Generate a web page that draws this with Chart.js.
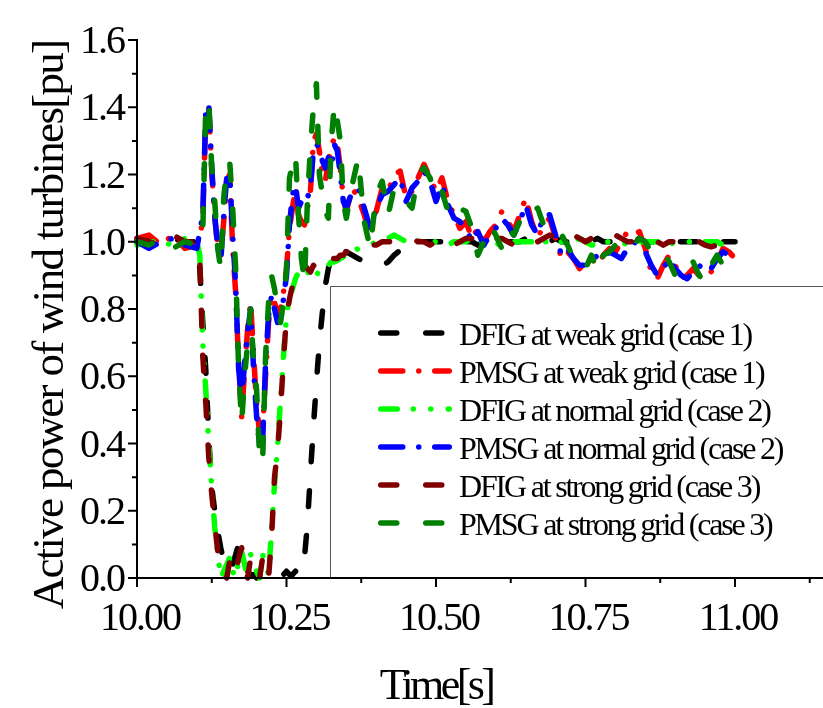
<!DOCTYPE html>
<html>
<head>
<meta charset="utf-8">
<script src="https://cdn.jsdelivr.net/npm/chart.js@4"></script>
<style>
  html, body { margin: 0; padding: 0; background: #fff; }
  canvas { display: block; }
</style>
</head>
<body>
<canvas id="powerCanvas" width="823" height="708"></canvas>
<script>
// time axis [s]
const times = [
  10.00, 10.02, 10.04, 10.06, 10.08, 10.10,
  10.105, 10.11, 10.115, 10.12, 10.125, 10.13, 10.135, 10.14, 10.145, 10.15,
  10.155, 10.16, 10.165, 10.17, 10.175, 10.18, 10.185, 10.19, 10.195, 10.20,
  10.205, 10.21, 10.215, 10.22, 10.225, 10.23, 10.235, 10.24, 10.245, 10.25,
  10.255, 10.26, 10.265, 10.27, 10.275, 10.28, 10.285, 10.29, 10.295, 10.30,
  10.305, 10.31, 10.315, 10.32, 10.325, 10.33, 10.335, 10.34, 10.345, 10.35,
  10.36, 10.37, 10.38, 10.39, 10.40, 10.41, 10.42, 10.43, 10.44, 10.45,
  10.46, 10.47, 10.48, 10.49, 10.50, 10.51, 10.52, 10.53, 10.54, 10.55,
  10.56, 10.57, 10.58, 10.59, 10.60, 10.61, 10.62, 10.63, 10.64, 10.65,
  10.66, 10.67, 10.68, 10.69, 10.70, 10.71, 10.72, 10.73, 10.74, 10.75,
  10.76, 10.77, 10.78, 10.79, 10.80, 10.81, 10.82, 10.83, 10.84, 10.85,
  10.86, 10.87, 10.88, 10.89, 10.90, 10.91, 10.92, 10.93, 10.94, 10.95,
  10.96, 10.97, 10.98, 10.99, 11.00
]

// active power [pu]
const dfigWeak = [
  1.00, 1.01, 0.99, 1.01, 1.00, 1.00,
  0.92, 0.76, 0.62, 0.42, 0.27, 0.20, 0.14, 0.09, 0.05, 0.04,
  0.06, 0.04, 0.07, 0.10, 0.08, 0.04, 0.02, 0.01, 0.01, 0.00,
  0.00, 0.00, 0.00, 0.00, 0.00, 0.00, 0.00, 0.00, 0.01, 0.02,
  0.01, 0.01, 0.02, 0.01, 0.02, 0.06, 0.16, 0.31, 0.45, 0.58,
  0.70, 0.79, 0.87, 0.92, 0.95, 0.97, 0.975, 0.98, 0.975, 0.97,
  0.96, 0.95, 0.94, 0.93, 0.93, 0.93, 0.94, 0.96, 0.975, 0.98,
  0.99, 0.99, 1.00, 1.00, 1.00, 1.00, 1.00, 1.01, 1.00, 1.00,
  1.00, 0.99, 1.00, 1.00, 1.01, 1.00, 1.00, 1.00, 1.00, 1.01,
  1.00, 1.00, 1.00, 1.00, 1.01, 1.00, 1.00, 1.00, 1.00, 1.00,
  1.00, 1.01, 1.00, 1.00, 1.00, 1.00, 1.00, 1.00, 1.01, 1.00,
  1.00, 1.00, 1.00, 1.01, 1.00, 1.00, 1.00, 1.00, 1.00, 1.00,
  1.01, 1.00, 1.00, 1.00, 1.00
]
const pmsgWeak = [
  1.01, 1.02, 0.99, 1.02, 0.98, 0.99,
  1.02, 1.06, 1.38, 1.40, 1.21, 1.07, 0.99, 0.96, 1.06, 1.18,
  1.20, 0.98, 0.85, 0.64, 0.48, 0.62, 0.74, 0.82, 0.66, 0.52,
  0.43, 0.44, 0.60, 0.76, 0.84, 0.82, 0.78, 0.80, 0.85, 0.92,
  1.04, 1.10, 1.16, 1.08, 1.06, 1.05, 1.10, 1.15, 1.30, 1.32,
  1.27, 1.20, 1.18, 1.24, 1.28, 1.31, 1.29, 1.22, 1.13, 1.09,
  1.16, 1.13, 1.08, 1.02, 1.09, 1.16, 1.15, 1.20, 1.21, 1.13,
  1.15, 1.19, 1.23, 1.19, 1.15, 1.19, 1.12, 1.08, 1.04, 1.06,
  1.01, 1.04, 1.00, 1.03, 1.05, 1.09, 1.06, 1.03, 1.08, 1.13,
  1.06, 1.01, 1.05, 1.07, 1.01, 0.95, 0.97, 0.95, 0.92, 0.94,
  0.95, 0.93, 0.96, 0.98, 0.97, 1.00, 1.03, 1.02, 1.03, 0.98,
  0.91, 0.89, 0.93, 0.96, 0.93, 0.89, 0.90, 0.92, 0.90, 0.89,
  0.91, 0.94, 0.98, 0.97, 0.95
]
const dfigNormal = [
  0.99, 1.00, 1.00, 0.99, 1.01, 1.00,
  0.96, 0.70, 0.56, 0.40, 0.27, 0.15, 0.07, 0.00, 0.02, 0.04,
  0.06, 0.02, 0.00, 0.05, 0.08, 0.04, 0.00, 0.07, 0.05, 0.02,
  0.00, 0.07, 0.04, 0.01, 0.14, 0.28, 0.39, 0.53, 0.66, 0.78,
  0.84, 0.86, 0.89, 0.91, 0.92, 0.92, 0.91, 0.90, 0.92, 0.91,
  0.90, 0.91, 0.92, 0.93, 0.94, 0.94, 0.945, 0.95, 0.955, 0.96,
  0.97, 0.98, 0.99, 0.99, 1.00, 1.00, 1.01, 1.02, 1.01, 1.00,
  1.00, 1.00, 1.01, 1.00, 1.00, 1.00, 0.99, 1.00, 1.00, 1.00,
  1.01, 1.00, 1.00, 1.00, 0.99, 1.00, 1.00, 1.00, 1.00, 1.00,
  1.00, 1.01, 1.00, 1.00, 0.99, 1.00, 1.00, 1.00, 1.01, 1.00,
  0.99, 0.99, 1.00, 1.00, 1.00, 1.00, 0.99, 1.00, 1.00, 1.00,
  1.00, 1.00, 1.00, 0.99, 1.00, 1.00, 1.00, 1.00, 0.99, 1.00,
  1.00, 1.00, 0.99, 1.00, 1.00
]
const pmsgNormal = [
  1.00, 0.98, 1.00, 1.01, 0.99, 0.98,
  1.03, 1.08, 1.39, 1.41, 1.22, 1.08, 0.98, 0.94, 1.08, 1.19,
  1.20, 1.02, 0.87, 0.62, 0.53, 0.64, 0.73, 0.80, 0.62, 0.48,
  0.39, 0.40, 0.64, 0.78, 0.84, 0.80, 0.76, 0.77, 0.83, 0.90,
  1.05, 1.14, 1.17, 1.10, 1.12, 1.11, 1.13, 1.16, 1.27, 1.29,
  1.28, 1.24, 1.22, 1.25, 1.22, 1.29, 1.27, 1.20, 1.12, 1.10,
  1.15, 1.16, 1.10, 1.04, 1.10, 1.14, 1.15, 1.17, 1.19, 1.12,
  1.16, 1.18, 1.21, 1.18, 1.12, 1.17, 1.11, 1.07, 1.06, 1.04,
  1.00, 1.03, 0.99, 1.02, 1.04, 1.07, 1.05, 1.02, 1.06, 1.11,
  1.05, 1.02, 1.08, 1.08, 1.02, 0.96, 0.98, 0.95, 0.93, 0.93,
  0.94, 0.96, 0.95, 0.97, 0.96, 0.95, 0.98, 1.00, 0.99, 0.97,
  0.93, 0.90, 0.92, 0.95, 0.92, 0.90, 0.89, 0.91, 0.93, 0.91,
  0.92, 0.95, 0.97, 0.96, 0.94
]
const dfigStrong = [
  1.01, 1.00, 0.99, 1.02, 1.00, 1.00,
  0.95, 0.66, 0.52, 0.36, 0.25, 0.16, 0.08, 0.02, 0.01, 0.00,
  0.05, 0.03, 0.01, 0.06, 0.09, 0.03, 0.00, 0.06, 0.04, 0.02,
  0.00, 0.06, 0.03, 0.00, 0.12, 0.30, 0.38, 0.50, 0.65, 0.78,
  0.83, 0.87, 0.90, 0.92, 0.93, 0.93, 0.92, 0.91, 0.93, 0.92,
  0.91, 0.92, 0.93, 0.94, 0.95, 0.95, 0.95, 0.96, 0.96, 0.97,
  0.975, 0.98, 0.98, 0.99, 0.99, 1.00, 1.00, 1.00, 1.01, 1.01,
  1.01, 1.00, 1.00, 0.99, 1.00, 1.01, 1.00, 0.99, 1.00, 1.01,
  1.01, 1.00, 0.99, 1.00, 1.01, 1.01, 1.00, 0.99, 1.00, 1.01,
  1.00, 1.00, 1.01, 1.02, 1.01, 1.00, 1.01, 1.02, 1.01, 1.00,
  1.01, 1.00, 1.00, 1.01, 1.02, 1.01, 1.00, 1.00, 1.01, 1.00,
  1.00, 1.00, 0.99, 1.00, 1.00, 0.99, 0.985, 0.99, 1.00, 0.99,
  0.985, 0.99, 0.985, 1.00, 1.00
]
const pmsgStrong = [
  1.00, 0.99, 1.01, 0.98, 1.00, 0.99,
  1.00, 1.03, 1.40, 1.42, 1.22, 1.12, 0.98, 0.92, 1.13, 1.22,
  1.24, 1.10, 0.92, 0.62, 0.46, 0.60, 0.70, 0.80, 0.64, 0.56,
  0.36, 0.34, 0.66, 0.82, 0.90, 0.86, 0.80, 0.76, 0.82, 0.92,
  1.19, 1.23, 1.26, 1.08, 0.95, 0.88, 1.12, 1.28, 1.40, 1.47,
  1.20, 1.14, 1.09, 1.07, 1.30, 1.41, 1.36, 1.30, 1.12, 1.07,
  1.17, 1.25, 1.06, 0.98, 1.14, 1.18, 1.08, 1.16, 1.15, 1.12,
  1.10, 1.20, 1.22, 1.19, 1.13, 1.15, 1.09, 1.07, 1.10, 1.09,
  1.04, 0.96, 1.00, 1.05, 1.02, 0.98, 1.04, 1.02, 1.06, 1.05,
  1.09, 1.10, 1.05, 1.03, 1.01, 1.02, 0.99, 0.95, 0.94, 0.92,
  0.96, 0.91, 0.96, 0.97, 0.99, 0.98, 1.00, 0.99, 1.01, 1.00,
  0.97, 0.96, 0.97, 0.94, 0.90, 0.89, 0.91, 0.94, 0.90, 0.88,
  0.93, 0.96, 0.93, 0.91, 0.94
]

const seriesNames = [
  'DFIG at weak grid (case 1)',
  'PMSG at weak grid (case 1)',
  'DFIG at normal grid (case 2)',
  'PMSG at normal grid (case 2)',
  'DFIG at strong grid (case 3)',
  'PMSG at strong grid (case 3)'
]
const seriesValues = [dfigWeak, pmsgWeak, dfigNormal, pmsgNormal, dfigStrong, pmsgStrong]

const xTicks = [10.00, 10.25, 10.50, 10.75, 11.00]
const xMinorTicks = [10.125, 10.375, 10.625, 10.875, 11.125]
const yTicks = [0.0, 0.2, 0.4, 0.6, 0.8, 1.0, 1.2, 1.4, 1.6]
const yMinorTicks = [0.1, 0.3, 0.5, 0.7, 0.9, 1.1, 1.3, 1.5]

// line styles, same order as the series
const DASH = [16, 29]
const DASH_DOT = [22, 16, 0.01, 16]
const DASH_DOT_DOT = [16.5, 16, 0.01, 17.5, 0.01, 17.5]
const styles = [
  {color: '#000000', dash: DASH},
  {color: '#ff0000', dash: DASH_DOT},
  {color: '#00ff00', dash: DASH_DOT_DOT},
  {color: '#0000ff', dash: DASH_DOT},
  {color: '#800000', dash: DASH},
  {color: '#008000', dash: DASH},
]

const SERIF = '"Liberation Serif", "Times New Roman", serif'

function drawText(ctx, str, x, y, size, spacing, align) {
  ctx.save()
  ctx.font = size + 'px ' + SERIF
  ctx.letterSpacing = spacing + 'px'
  ctx.textAlign = align
  ctx.textBaseline = 'alphabetic'
  ctx.fillStyle = '#000'
  ctx.fillText(str, x, y)
  ctx.restore()
}

// legend sits inside the plot, lower right, on a white box
const legendBox = {
  id: 'legendBox',
  afterDatasetsDraw(chart) {
    const {ctx, chartArea: a} = chart
    const left = a.left + 193.5
    const top = a.top + 246.5
    ctx.save()
    ctx.fillStyle = '#fff'
    ctx.fillRect(left, top, a.right - left + 2, a.bottom - top)
    ctx.strokeStyle = '#555'
    ctx.lineWidth = 1
    ctx.beginPath()
    ctx.moveTo(left, a.bottom)
    ctx.lineTo(left, top)
    ctx.lineTo(a.right + 2, top)
    ctx.stroke()

    chart.data.datasets.forEach((ds, i) => {
      const ly = top + 46.5 + i * 38
      ctx.beginPath()
      ctx.setLineDash(ds.borderDash)
      ctx.lineCap = 'round'
      ctx.lineWidth = ds.borderWidth
      ctx.strokeStyle = ds.borderColor
      ctx.moveTo(left + 50.25, ly)
      ctx.lineTo(left + 118.75, ly)
      ctx.stroke()
      drawText(ctx, ds.label, left + 128.5, ly + 12, 32, -2.2, 'left')
    })
    ctx.restore()
  }
}

// axes with outward major/minor ticks, labels and titles
const axesDraw = {
  id: 'axesDraw',
  afterDraw(chart) {
    const {ctx, chartArea: a, scales: {x, y}} = chart
    ctx.save()
    ctx.setLineDash([])
    ctx.strokeStyle = '#000'
    ctx.lineWidth = 2
    ctx.lineCap = 'butt'
    ctx.beginPath()
    ctx.moveTo(a.left, y.getPixelForValue(1.6) - 1)
    ctx.lineTo(a.left, a.bottom + 1)
    ctx.moveTo(a.left - 1, a.bottom)
    ctx.lineTo(a.right + 1, a.bottom)
    yTicks.forEach(v => {
      const py = y.getPixelForValue(v)
      ctx.moveTo(a.left - 9, py)
      ctx.lineTo(a.left, py)
    })
    yMinorTicks.forEach(v => {
      const py = y.getPixelForValue(v)
      ctx.moveTo(a.left - 5, py)
      ctx.lineTo(a.left, py)
    })
    xTicks.forEach(v => {
      const px = x.getPixelForValue(v)
      ctx.moveTo(px, a.bottom)
      ctx.lineTo(px, a.bottom + 9)
    })
    xMinorTicks.forEach(v => {
      const px = x.getPixelForValue(v)
      ctx.moveTo(px, a.bottom)
      ctx.lineTo(px, a.bottom + 5)
    })
    ctx.stroke()

    yTicks.forEach(v => {
      drawText(ctx, v.toFixed(1), a.left - 13, y.getPixelForValue(v) + 13, 40, -2, 'right')
    })
    xTicks.forEach(v => {
      drawText(ctx, v.toFixed(2), x.getPixelForValue(v) + 3, a.bottom + 52, 40, -2, 'center')
    })

    drawText(ctx, 'Time[s]', x.getPixelForValue(10.5), 699, 44, -3.6, 'center')

    ctx.save()
    ctx.translate(63, 325)
    ctx.rotate(-Math.PI / 2)
    drawText(ctx, 'Active power of wind turbines[pu]', 0, 0, 45, -1.7, 'center')
    ctx.restore()
    ctx.restore()
  }
}

const powerChart = new Chart(document.getElementById('powerCanvas'), {
  type: 'line',
  data: {
    datasets: seriesNames.map((name, i) => ({
      label: name,
      data: times.map((t, k) => ({x: t, y: seriesValues[i][k]})),
      borderColor: styles[i].color,
      borderDash: styles[i].dash,
      borderWidth: 5.5,
      borderCapStyle: 'round',
      borderJoinStyle: 'round',
      pointRadius: 0,
      tension: 0,
      fill: false,
      clip: false,
      order: seriesNames.length - 1 - i,
    }))
  },
  options: {
    responsive: false,
    animation: false,
    devicePixelRatio: 1,
    layout: {padding: {left: 137, top: 40, right: 1, bottom: 130}},
    plugins: {legend: {display: false}, tooltip: {enabled: false}},
    scales: {
      x: {type: 'linear', min: 10, max: 11.1455, display: false},
      y: {type: 'linear', min: 0, max: 1.6, display: false},
    },
  },
  plugins: [legendBox, axesDraw],
})
</script>
</body>
</html>
